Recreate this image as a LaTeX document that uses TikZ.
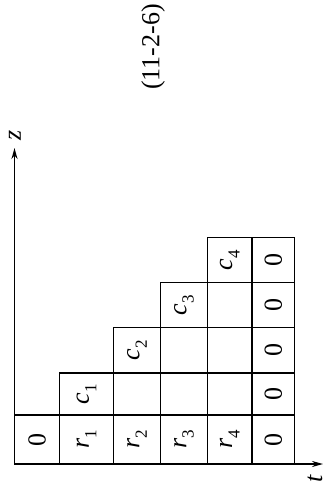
\documentclass[tikz,border=0pt]{standalone}
\usepackage{fontspec}
\setmainfont{Liberation Serif}
\usetikzlibrary{arrows.meta}
\newcommand\isub[2]{\textit{#1}\raisebox{-0.28em}{\fontsize{17}{19}\selectfont #2}}
\tikzset{
  cell/.style={draw, line width=1.2pt, inner sep=0pt, rotate=90,
    font=\fontsize{26}{30}\selectfont},
  axis/.style={line width=1.6pt, -{Stealth[length=11pt,width=6pt]}},
  lbl/.style={rotate=90, font=\fontsize{26}{30}\selectfont, inner sep=0pt},
}
% \cellbox{name}{x1}{y1}{x2}{y2}{text}
\newcommand\cellbox[6]{%
  \node[cell, minimum height={(#4-#2)*1pt}, minimum width={(#5-#3)*1pt}]
    (#1) at ({(#2+#4)/2},{(#3+#5)/2}) {#6};}
\begin{document}
\begin{tikzpicture}[x=1pt,y=-1pt]
\useasboundingbox (0,0) rectangle (329,492);
% column 0
\cellbox{z0}{14.5}{415}{59.5}{464}{0}
% column 1
\cellbox{c1}{59.5}{373}{113.5}{415}{\isub{c}{1}}
\cellbox{r1}{59.5}{415}{113.5}{464}{\isub{r}{1}}
% column 2
\cellbox{c2}{113.5}{327.5}{160.5}{373}{\isub{c}{2}}
\cellbox{e22}{113.5}{373}{160.5}{415}{}
\cellbox{r2}{113.5}{415}{160.5}{464}{\isub{r}{2}}
% column 3
\cellbox{c3}{160.5}{282.5}{207.5}{327.5}{\isub{c}{3}}
\cellbox{e32}{160.5}{327.5}{207.5}{373}{}
\cellbox{e33}{160.5}{373}{207.5}{415}{}
\cellbox{r3}{160.5}{415}{207.5}{464}{\isub{r}{3}}
% column 4
\cellbox{c4}{207.5}{237.5}{252}{282.5}{\isub{c}{4}}
\cellbox{e41}{207.5}{282.5}{252}{327.5}{}
\cellbox{e42}{207.5}{327.5}{252}{373}{}
\cellbox{e43}{207.5}{373}{252}{415}{}
\cellbox{r4}{207.5}{415}{252}{464}{\isub{r}{4}}
% column 5
\cellbox{o1}{252}{237.5}{294.5}{282.5}{0}
\cellbox{o2}{252}{282.5}{294.5}{327.5}{0}
\cellbox{o3}{252}{327.5}{294.5}{373}{0}
\cellbox{o4}{252}{373}{294.5}{415}{0}
\cellbox{o5}{252}{415}{294.5}{464}{0}
% axes
\coordinate (O) at (14.5,464);
\coordinate (zend) at (14.5,148);
\coordinate (tend) at (323,464);
\draw[axis] (O) -- (zend);
\draw[axis] (O) -- (tend);
\node[lbl] (zl) at (15,135) {\textit{z}};
\node[lbl] (tl) at (315,479) {\textit{t}};
\node[lbl] (eq) at (153,47) {(11-2-6)};
\end{tikzpicture}
\end{document}
